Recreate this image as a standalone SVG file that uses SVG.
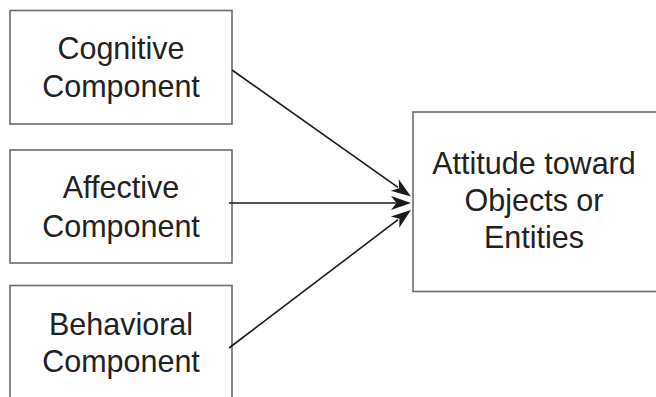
<svg xmlns="http://www.w3.org/2000/svg" xmlns:xlink="http://www.w3.org/1999/xlink" width="656" height="397" viewBox="0 0 656 397">
<style>
.box{fill:#fff;stroke:#6b6b6b;stroke-width:1.6}
.t{font-family:"Liberation Sans",Arial,sans-serif;font-size:30.5px;fill:#222;text-anchor:middle}
.c{stroke:#1a1a1a;stroke-width:1.6;fill:none}
.h{fill:#1a1a1a;stroke:none}
</style>
<defs>
<path id="head" class="h" d="M0,0 L-20,-7 L-14.5,0 L-20,7 z"/>
</defs>
<rect width="656" height="397" fill="#fff"/>
<g id="cognitive">
<rect class="box" x="10" y="10.5" width="222" height="113.5"/>
<text class="t" x="121" y="59">Cognitive</text>
<text class="t" x="121" y="97">Component</text>
</g>
<g id="affective">
<rect class="box" x="10" y="150" width="222" height="113"/>
<text class="t" x="121" y="198">Affective</text>
<text class="t" x="121" y="236.5">Component</text>
</g>
<g id="behavioral">
<rect class="box" x="10" y="285.5" width="222" height="130"/>
<text class="t" x="121" y="335">Behavioral</text>
<text class="t" x="121" y="372">Component</text>
</g>
<g id="attitude">
<rect class="box" x="413" y="112" width="260" height="179.5"/>
<text class="t" x="534" y="174">Attitude toward</text>
<text class="t" x="534" y="211">Objects or</text>
<text class="t" x="534" y="248">Entities</text>
</g>
<g id="connectors">
<line class="c" x1="232" y1="70" x2="398" y2="187.3"/>
<use xlink:href="#head" href="#head" transform="translate(411,196.5) rotate(35.25)"/>
<line class="c" x1="229" y1="203" x2="396" y2="203"/>
<use xlink:href="#head" href="#head" transform="translate(411,203)"/>
<line class="c" x1="229" y1="348" x2="398" y2="219.7"/>
<use xlink:href="#head" href="#head" transform="translate(411,210) rotate(-37.17)"/>
</g>
</svg>
